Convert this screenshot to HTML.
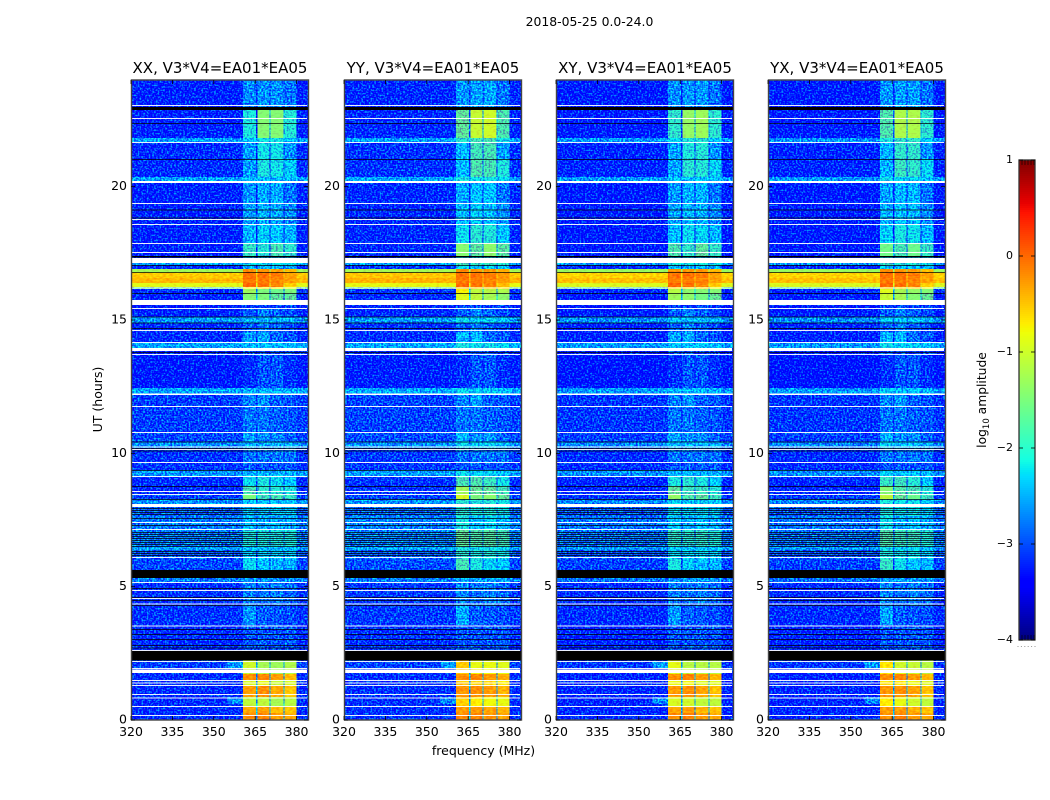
<!DOCTYPE html>
<html>
<head>
<meta charset="utf-8">
<title>2018-05-25 0.0-24.0</title>
<style>
html,body{margin:0;padding:0;background:#fff;}
svg{display:block;font-family:"DejaVu Sans","Liberation Sans",sans-serif;fill:#000;}
</style>
</head>
<body>
<svg id="chart" xmlns="http://www.w3.org/2000/svg" width="1050" height="800" viewBox="0 0 1050 800">
<defs>
<filter id="speckleDim" filterUnits="userSpaceOnUse" x="0" y="0" width="1050" height="800" color-interpolation-filters="sRGB"><feTurbulence type="fractalNoise" baseFrequency="0.55 0.6" numOctaves="1" seed="3" result="n"/><feColorMatrix in="n" type="matrix" values="0 0 0 0 .5  2.5 0 0 0 -.85  0 0 0 0 .5  0 0 0 0 1" result="m"/><feComposite in="SourceGraphic" in2="m" operator="arithmetic" k1="0" k2="1" k3="0.9" k4="-0.45" result="r"/><feComposite in="r" in2="SourceGraphic" operator="in"/></filter>
<filter id="speckleHot" filterUnits="userSpaceOnUse" x="0" y="0" width="1050" height="800" color-interpolation-filters="sRGB"><feTurbulence type="fractalNoise" baseFrequency="0.3 0.6" numOctaves="1" seed="9" result="n"/><feColorMatrix in="n" type="matrix" values="0 0 0 0 .5  2.5 0 0 0 -.75  0 0 0 0 .5  0 0 0 0 1" result="m"/><feComposite in="SourceGraphic" in2="m" operator="arithmetic" k1="0" k2="1" k3="0.22" k4="-0.11" result="r"/><feComposite in="r" in2="SourceGraphic" operator="in"/></filter>
</defs>
<text x="589.5" y="26" font-size="12.4" text-anchor="middle">2018-05-25 0.0-24.0</text>
<text x="483.5" y="755" font-size="12.5" text-anchor="middle">frequency (MHz)</text>
<text transform="translate(102,399.5) rotate(-90)" font-size="12.5" text-anchor="middle">UT (hours)</text>
<text transform="translate(986,400) rotate(-90)" font-size="12.3" text-anchor="middle">log<tspan font-size="8.5" dy="3">10</tspan><tspan dy="-3"> amplitude</tspan></text>
</svg>
<script>
// ---- chart data (frequency in MHz, time in UT hours, amplitude in log10) ----
var panelTitles = ["XX, V3*V4=EA01*EA05", "YY, V3*V4=EA01*EA05", "XY, V3*V4=EA01*EA05", "YX, V3*V4=EA01*EA05"];
var xTicks = [320, 335, 350, 365, 380];
var yTicks = [0, 5, 10, 15, 20];
var cbarTicks = [1, 0, -1, -2, -3, -4];
var spectralWindows = [[360.6, 365.3], [365.8, 370.2], [370.6, 375.2], [375.7, 380]];
// per polarisation offsets to the XX reference levels
var polBackgroundOffset = [-0.08, -0.05, -0.12, -0.12];
var polWindowOffset = [
  [0, 0, 0, 0],
  [0.55, 0.4, 0.45, 0.3],
  [0.15, 0.1, 0.15, 0.05],
  [0.4, 0.25, 0.25, 0.05]
];
// tStart, tEnd, background, window1..window4
var timeBands = [
  [22.99, 24, -3.05, -2.6, -2.55, -2.55, -2.7],
  [22.39, 22.91, -3.05, -2.1, -1.45, -1.45, -2.05],
  [21.83, 22.39, -3.05, -2.1, -1.45, -1.45, -2.05],
  [21.68, 21.83, -2.4, -2.3, -2.15, -2.15, -2.3],
  [21.04, 21.68, -3.0, -2.5, -2.15, -2.15, -2.55],
  [20.36, 21.04, -3.0, -2.5, -2.1, -2.15, -2.25],
  [20.21, 20.36, -2.4, -2.35, -2.35, -2.35, -2.35],
  [19.35, 20.14, -3.05, -2.55, -2.45, -2.45, -2.7],
  [18.6, 19.35, -3.05, -2.5, -2.4, -2.45, -2.6],
  [17.89, 18.6, -3.05, -2.4, -2.25, -2.3, -2.4],
  [17.4, 17.89, -3.05, -1.95, -2.05, -1.85, -2.0],
  [17.33, 17.4, -3.05, -2.4, -2.4, -2.4, -2.4],
  [17.06, 17.14, -2.4, -2.2, -2.2, -2.2, -2.2],
  [16.91, 17.06, -3.0, -2.4, -2.4, -2.4, -2.4],
  [16.78, 16.91, -1.2, -0.2, -0.25, -0.3, -0.45],
  [16.58, 16.78, -0.45, -0.05, -0.05, -0.1, -0.3],
  [16.39, 16.58, -0.35, -0.1, -0.1, -0.15, -0.3],
  [16.24, 16.39, -0.8, 0, -0.05, -0.15, -0.55],
  [16.16, 16.24, -1.6, -0.7, -0.7, -0.7, -0.85],
  [16.01, 16.16, -3.0, -1.3, -1.5, -1.6, -1.5],
  [15.75, 16.01, -3.05, -1.45, -1.5, -1.7, -1.7],
  [15.45, 15.56, -3.1, -2.95, -2.95, -2.95, -2.95],
  [15.11, 15.45, -3.05, -2.8, -2.65, -2.8, -2.9],
  [14.89, 15.11, -2.45, -2.4, -2.4, -2.4, -2.4],
  [14.55, 14.89, -3.0, -2.8, -2.65, -2.8, -2.9],
  [14.18, 14.55, -3.0, -2.5, -2.45, -2.75, -2.85],
  [13.95, 14.18, -2.4, -2.35, -2.35, -2.35, -2.35],
  [13.69, 13.95, -3.05, -2.9, -2.9, -2.9, -2.95],
  [12.45, 13.69, -3.1, -3.05, -2.85, -2.85, -3.05],
  [12.24, 12.45, -2.4, -2.4, -2.4, -2.4, -2.4],
  [11.78, 12.19, -2.9, -2.65, -2.55, -2.8, -2.85],
  [10.8, 11.78, -2.9, -2.7, -2.7, -2.8, -2.85],
  [10.43, 10.8, -2.85, -2.5, -2.6, -2.6, -2.8],
  [10.2, 10.43, -2.5, -2.4, -2.4, -2.4, -2.4],
  [9.64, 10.2, -2.95, -2.7, -2.7, -2.7, -2.7],
  [9.38, 9.64, -2.95, -2.85, -2.85, -2.85, -2.85],
  [9.11, 9.38, -2.45, -2.4, -2.4, -2.4, -2.4],
  [8.78, 9.11, -3.0, -2.2, -2.1, -2.2, -2.3],
  [8.48, 8.78, -3.0, -1.85, -2.0, -2.05, -2.1],
  [8.29, 8.48, -2.9, -1.5, -1.9, -1.85, -1.95],
  [8.1, 8.29, -2.5, -2.3, -2.3, -2.3, -2.3],
  [7.65, 7.99, -2.7, -2.3, -2.3, -2.3, -2.3],
  [7.13, 7.65, -2.6, -2.35, -2.45, -2.4, -2.45],
  [6.49, 7.13, -2.6, -2.1, -2.1, -2.1, -2.1],
  [6.38, 6.49, -2.4, -2.35, -2.35, -2.35, -2.35],
  [6.04, 6.38, -2.75, -2.3, -2.3, -2.3, -2.3],
  [5.63, 6.04, -2.85, -2.2, -2.3, -2.4, -2.4],
  [5.18, 5.33, -2.6, -2.55, -2.55, -2.55, -2.55],
  [4.28, 5.18, -2.95, -2.65, -2.7, -2.65, -2.75],
  [3.56, 4.28, -2.95, -2.55, -2.8, -2.85, -2.9],
  [2.59, 3.56, -3.0, -2.85, -2.85, -2.85, -2.85],
  [1.95, 2.23, -2.9, -1.0, -1.25, -1.3, -1.2],
  [1.73, 1.95, -3.0, -1.05, -1.15, -1.25, -1.15],
  [1.5, 1.73, -3.0, -0.2, -0.15, -0.3, -0.45],
  [1.28, 1.5, -3.0, -0.95, -0.85, -1.05, -0.95],
  [0.86, 1.28, -3.0, -0.3, -0.2, -0.35, -0.5],
  [0.53, 0.86, -3.0, -1.1, -1.1, -1.25, -1.15],
  [0.26, 0.53, -3.0, -0.35, -0.3, -0.45, -0.5],
  [0, 0.26, -3.0, -0.2, -0.15, -0.3, -0.35]
];
// brief rise before the band edge: tStart, tEnd, amplitude
var edgeRamps = [[1.95, 2.18, -2.5], [0.6, 0.86, -2.6]];
// flagged rows
var blankRows = [[23.025,23.06],[22.54,22.575],[21.64,21.675],[20.14,20.21],[19.35,19.39],[18.75,18.79],[18.56,18.6],[17.85,17.89],[17.51,17.55],[17.14,17.33],[16.18,16.22],[15.56,15.75],[15.41,15.45],[14.59,14.63],[14.14,14.18],[13.84,13.95],[13.69,13.73],[12.19,12.24],[11.74,11.78],[10.76,10.8],[10.22,10.26],[10.13,10.16],[9.64,9.68],[9.11,9.15],[8.55,8.59],[8.44,8.48],[7.99,8.1],[7.39,7.43],[7.13,7.16],[6.08,6.11],[5.14,5.18],[4.84,4.88],[4.54,4.58],[4.33,4.37],[3.51,3.54],[2.59,2.63],[2.18,2.21],[1.91,1.95],[1.76,1.89],[1.46,1.5],[1.37,1.41],[1.28,1.31],[0.94,0.98],[0.81,0.84],[0.49,0.53],[0.15,0.19]];
var zeroRows = [[22.88,22.99],[22.35,22.39],[21,21.04],[19.11,19.14],[18.81,18.84],[17.34,17.4],[17.03,17.06],[16.76,16.8],[15.98,16.01],[15.09,15.13],[14.87,14.91],[14.66,14.7],[13.76,13.8],[10.41,10.44],[10.16,10.2],[10.07,10.11],[9.34,9.38],[8.74,8.78],[8.25,8.29],[7.91,7.95],[7.84,7.875],[7.76,7.8],[7.69,7.725],[7.54,7.575],[7.275,7.31],[7.01,7.05],[6.94,6.975],[6.86,6.9],[6.79,6.825],[6.71,6.75],[6.64,6.675],[6.56,6.6],[6.49,6.525],[6.3,6.34],[6.225,6.26],[6.15,6.19],[5.325,5.625],[4.91,4.95],[4.575,4.61],[4.46,4.5],[4.275,4.31],[3.375,3.41],[3.19,3.225],[3,3.04],[2.775,2.81],[2.68,2.72],[2.23,2.59]];

// ---- layout ----
var svgNS = "http://www.w3.org/2000/svg";
var chart = document.getElementById("chart");
var panelLeft = [131, 344, 556, 768];
var panelWidth = 177, plotTop = 80, plotBottom = 720;
var FMIN = 320, FMAX = 384.13, TMIN = 0, TMAX = 24;
var CMIN = -4, CMAX = 1, cbarLeft = 1019, cbarRight = 1035, cbarTop = 160, cbarBottom = 640;
var HOT_LEVEL = -1.6;

function xScale(p, f) { return panelLeft[p] + (f - FMIN) / (FMAX - FMIN) * panelWidth; }
function yScale(t) { return plotBottom - (t - TMIN) / (TMAX - TMIN) * (plotBottom - plotTop); }
function cScale(v) { return cbarBottom - (v - CMIN) / (CMAX - CMIN) * (cbarBottom - cbarTop); }
function interp(pts, x) {
  for (var i = 1; i < pts.length; i++) {
    if (x <= pts[i][0]) {
      var a = pts[i - 1], b = pts[i];
      return a[1] + (b[1] - a[1]) * (x - a[0]) / (b[0] - a[0]);
    }
  }
  return pts[pts.length - 1][1];
}
function jet(v) {
  var n = Math.max(0, Math.min(1, (v - CMIN) / (CMAX - CMIN)));
  var r = interp([[0,0],[0.35,0],[0.66,1],[0.89,1],[1,0.5]], n);
  var g = interp([[0,0],[0.125,0],[0.375,1],[0.64,1],[0.91,0],[1,0]], n);
  var b = interp([[0,0.5],[0.11,1],[0.34,1],[0.65,0],[1,0]], n);
  return "rgb(" + Math.round(r * 255) + "," + Math.round(g * 255) + "," + Math.round(b * 255) + ")";
}
function mk(tag, parent, attrs) {
  var el = document.createElementNS(svgNS, tag);
  for (var k in attrs) el.setAttribute(k, attrs[k]);
  parent.appendChild(el);
  return el;
}
function tone(v, off) {
  // offsets fade out near saturation and in the faintest rows
  var hi = Math.max(0, Math.min(1, (-v - 0.2) / 0.9));
  var lo = Math.max(0, Math.min(1, (v + 2.7) / 0.8));
  return v + off * hi * lo;
}

panelTitles.forEach(function (title, p) {
  var L = panelLeft[p], R = L + panelWidth;
  var panel = mk("g", chart, {});
  
  

  var heat = mk("g", panel, { filter: "url(#speckleDim)", "shape-rendering": "crispEdges" });
  
  
  var hot = mk("g", panel, { filter: "url(#speckleHot)", "shape-rendering": "crispEdges" });
  
  
  function layerFor(v) { return v >= HOT_LEVEL ? hot : heat; }

  timeBands.forEach(function (b) {
    var y0 = yScale(b[1]), h = yScale(b[0]) - y0;
    var bg = b[2] + polBackgroundOffset[p];
    var base = mk("rect", layerFor(bg), { x: xScale(p, FMIN), y: y0, width: panelWidth, height: h, fill: jet(bg) });
    
    
    spectralWindows.forEach(function (sw, w) {
      var val = tone(b[3 + w], polWindowOffset[p][w]);
      var gapVal = Math.min(val - 1.0, -2.45);
      if (gapVal > bg && w < 3) {
        var gap = mk("rect", layerFor(gapVal), { x: xScale(p, sw[1]), y: y0, width: xScale(p, spectralWindows[w + 1][0]) - xScale(p, sw[1]), height: h, fill: jet(gapVal) });
        
        
      }
      var cell = mk("rect", layerFor(val), { x: xScale(p, sw[0]), y: y0, width: xScale(p, sw[1]) - xScale(p, sw[0]), height: h, fill: jet(val) });
      
      
    });
  });
  edgeRamps.forEach(function (r) {
    var y0 = yScale(r[1]);
    var rr = mk("rect", heat, { x: xScale(p, 355), y: y0, width: xScale(p, spectralWindows[0][0]) - xScale(p, 355), height: yScale(r[0]) - y0, fill: jet(r[2]) });
    
    
  });

  var flags = mk("g", panel, { "shape-rendering": "crispEdges" });
  
  
  zeroRows.forEach(function (r) {
    var y0 = yScale(r[1]), h = yScale(r[0]) - y0;
    var z = mk("rect", flags, { x: L, y: y0, width: panelWidth, height: Math.max(1, h), fill: "#000", "fill-opacity": h < 1.5 ? 0.72 : 1 });
    
    
  });
  blankRows.forEach(function (r) {
    var y0 = yScale(r[1]), h = yScale(r[0]) - y0;
    var z = mk("rect", flags, { x: L + 1, y: y0, width: panelWidth - 2, height: Math.max(1, h), fill: "#fff", "fill-opacity": h < 1.5 ? 0.92 : 1 });
    
    
  });

  var frame = mk("rect", panel, { x: L + 0.5, y: plotTop, width: panelWidth, height: plotBottom - plotTop, fill: "none", stroke: "#444", "stroke-width": 1.4 });
  
  

  xTicks.forEach(function (f) {
    var x = xScale(p, f);
    var t1 = mk("line", panel, { x1: x, x2: x, y1: plotBottom, y2: plotBottom - 4, stroke: "#000", "stroke-width": 0.8 });
    
    
    var t2 = mk("line", panel, { x1: x, x2: x, y1: plotTop, y2: plotTop + 4, stroke: "#000", "stroke-width": 0.8 });
    
    
    var lab = mk("text", panel, { x: x, y: 736, "font-size": 12.5, "text-anchor": "middle" });
    
    
    lab.textContent = f;
  });
  yTicks.forEach(function (t) {
    var y = yScale(t);
    var t1 = mk("line", panel, { x1: L, x2: L + 4, y1: y, y2: y, stroke: "#000", "stroke-width": 0.8 });
    
    
    var t2 = mk("line", panel, { x1: R, x2: R - 4, y1: y, y2: y, stroke: "#000", "stroke-width": 0.8 });
    
    
    var lab = mk("text", panel, { x: L - 4, y: y + 3.5, "font-size": 12.5, "text-anchor": "end" });
    
    
    lab.textContent = t;
  });
  var ttl = mk("text", panel, { x: L + panelWidth / 2 + 0.5, y: 73, "font-size": 15, "text-anchor": "middle" });
  
  
  ttl.textContent = title;
});

// ---- colorbar ----
var cbar = mk("g", chart, { "shape-rendering": "crispEdges" });


var cbarSteps = [];
for (var s = 0; s < 240; s++) cbarSteps.push(CMIN + (s + 0.5) * (CMAX - CMIN) / 240);
cbarSteps.forEach(function (v) {
  var y = cScale(v) - 1;
  var seg = mk("rect", cbar, { x: cbarLeft, y: y, width: cbarRight - cbarLeft, height: 2.1, fill: jet(v) });
  
  
});
var cframe = mk("rect", chart, { x: cbarLeft, y: cbarTop, width: cbarRight - cbarLeft, height: cbarBottom - cbarTop, fill: "none", stroke: "#333", "stroke-width": 1.3 });


cbarTicks.forEach(function (v) {
  var y = cScale(v);
  var a = mk("line", chart, { x1: cbarLeft, x2: cbarLeft + 4, y1: y, y2: y, stroke: "#000", "stroke-width": 0.8 });
  
  
  var b = mk("line", chart, { x1: cbarRight - 4, x2: cbarRight, y1: y, y2: y, stroke: "#000", "stroke-width": 0.8 });
  
  
  var lab = mk("text", chart, { x: 1013, y: y + 3, "font-size": 11, "text-anchor": "end" });
  
  
  lab.textContent = v < 0 ? "\u2212" + Math.abs(v) : String(v);
});
var cbarMinorTicks = [1, 2, 3, 4, 5];
cbarMinorTicks.forEach(function (m) {
  var x = cbarLeft + 3 * m;
  var top = mk("line", chart, { x1: x, x2: x, y1: cbarTop, y2: cbarTop + 5, stroke: "#000", "stroke-width": 0.6 });
  
  
  var bot = mk("line", chart, { x1: x, x2: x, y1: cbarBottom - 5, y2: cbarBottom, stroke: "#000", "stroke-width": 0.6 });
  
  
});
var cbarDots = [0, 1, 2, 3, 4, 5];
cbarDots.forEach(function (d) {
  var dot = mk("rect", chart, { x: 1017.5 + d * 3.4, y: 646, width: 1, height: 1, fill: "#999" });
  
  
});
</script>
</body>
</html>
